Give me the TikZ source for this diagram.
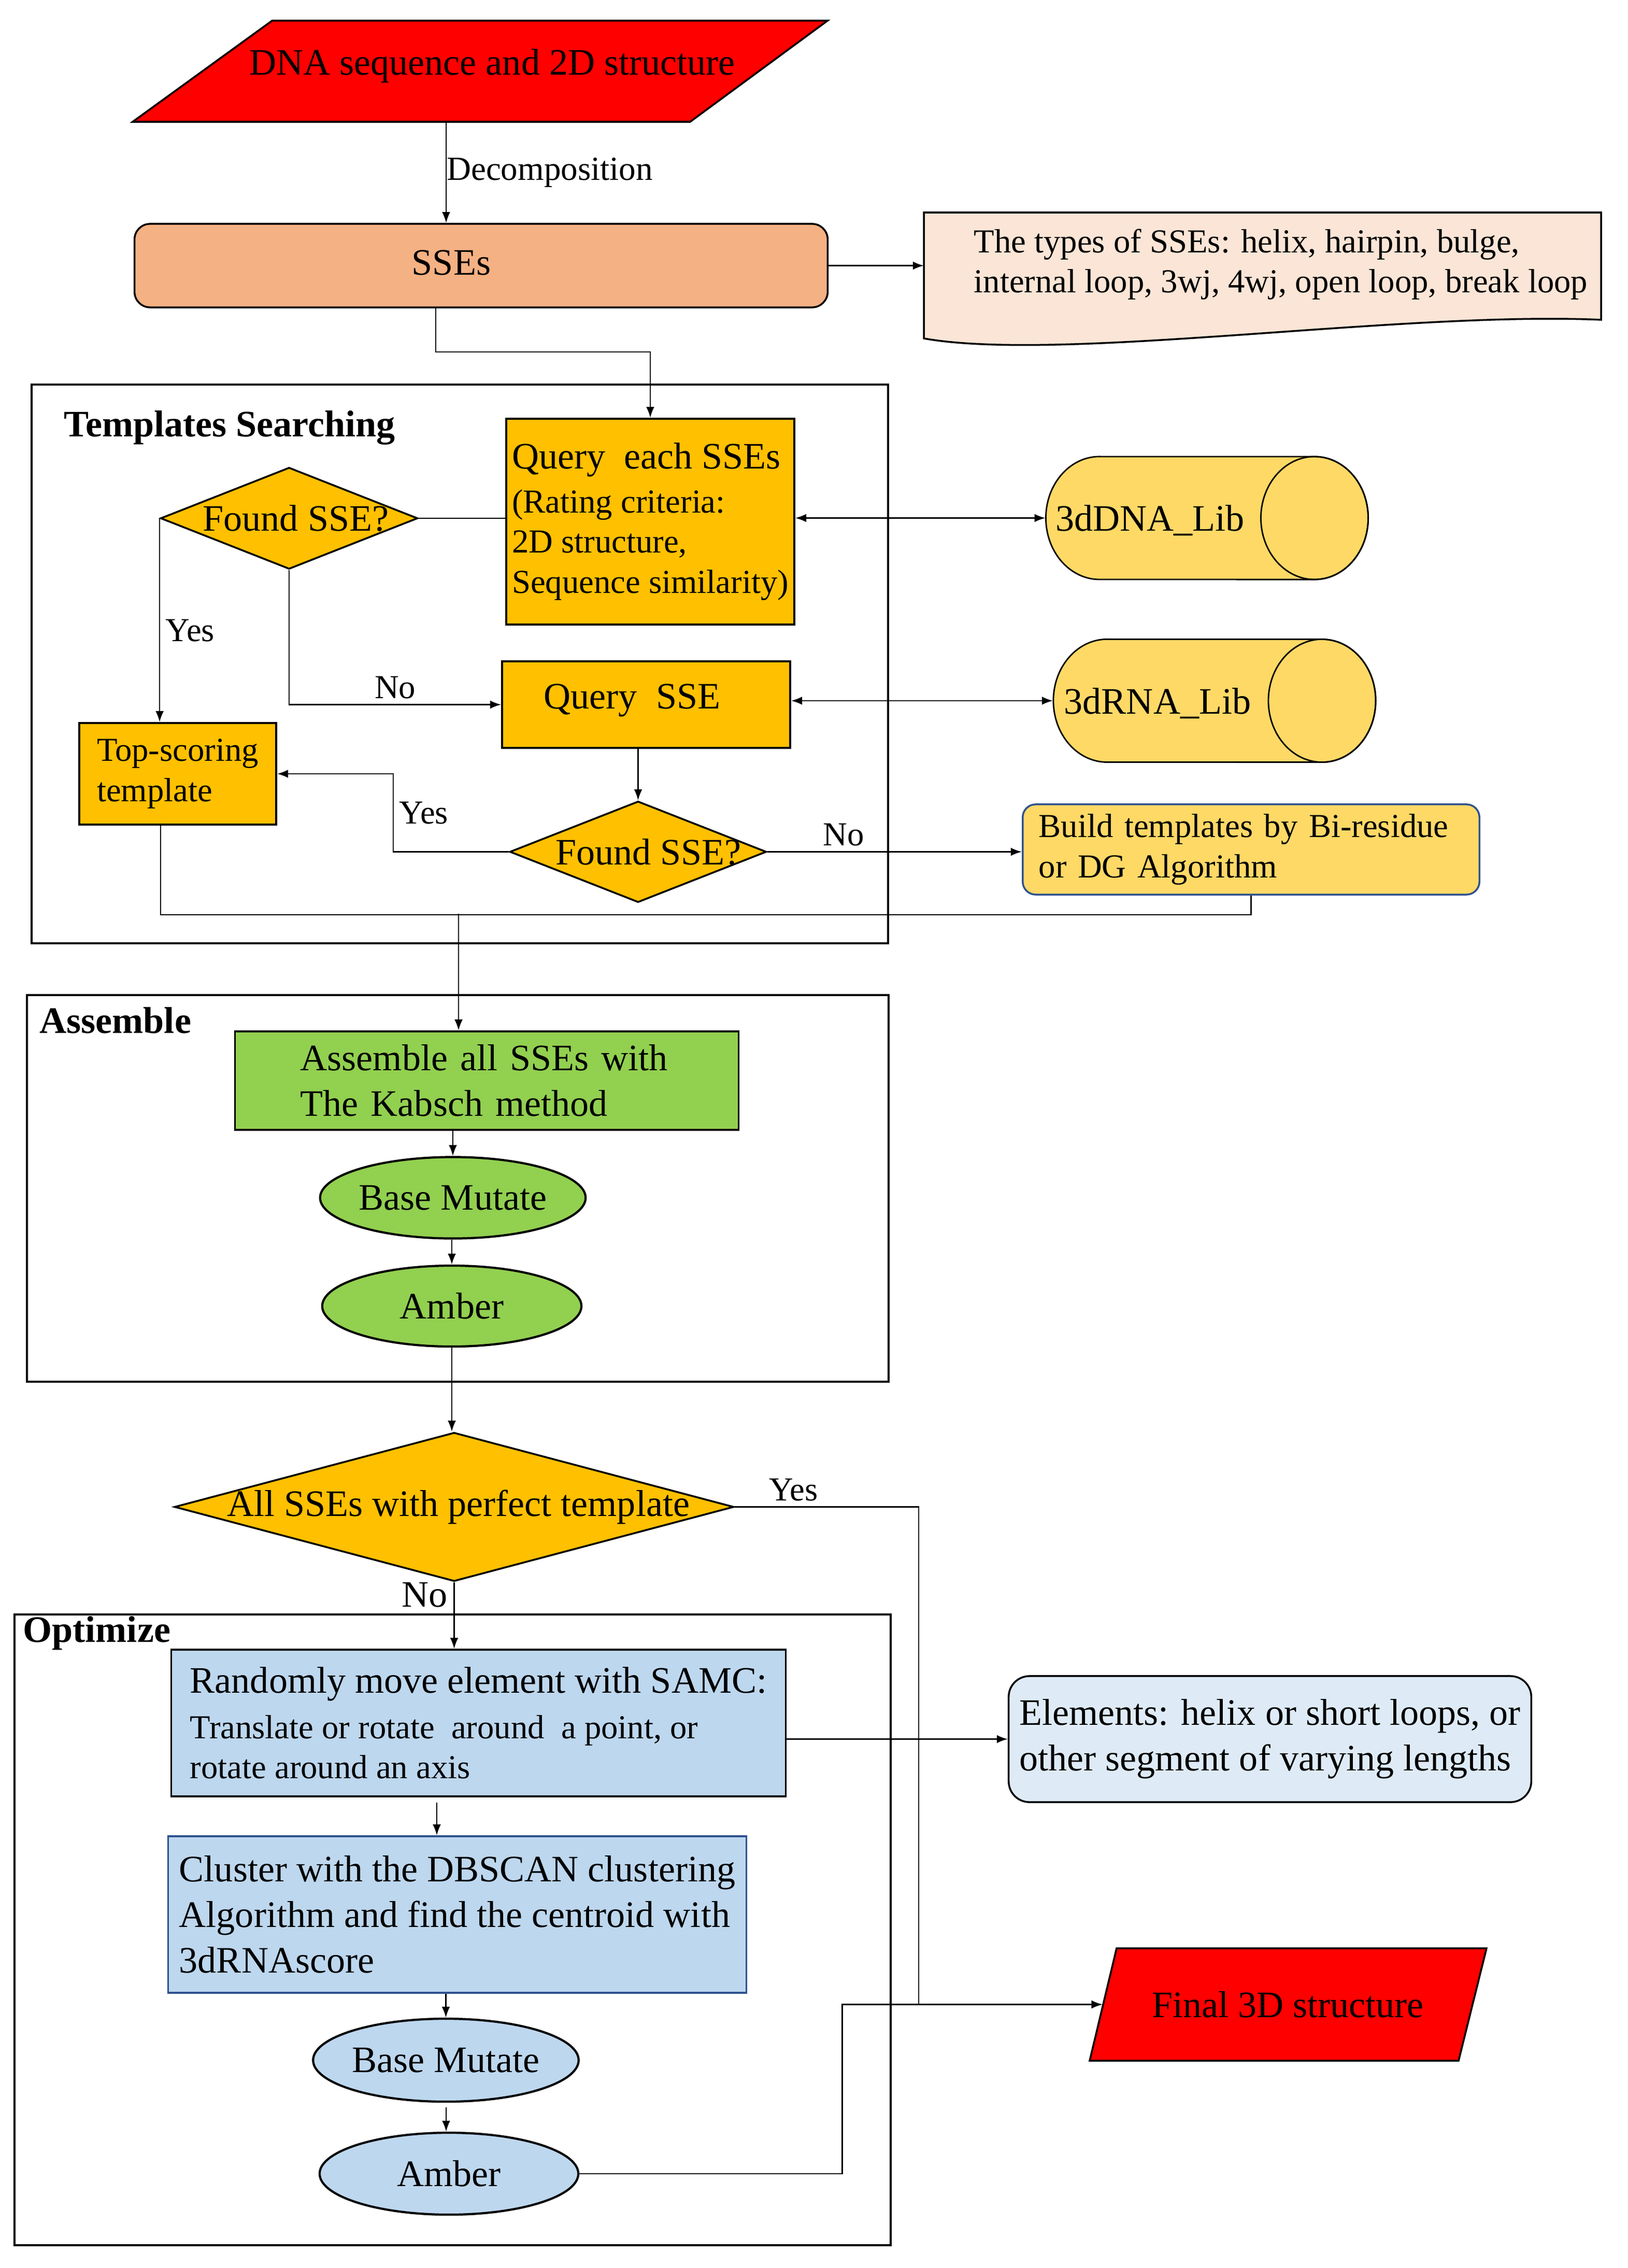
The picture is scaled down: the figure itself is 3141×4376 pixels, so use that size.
\documentclass[tikz,border=0pt]{standalone}
\usepackage{fontspec}
\setmainfont{Liberation Serif}
\usetikzlibrary{arrows.meta,shapes.geometric}
\definecolor{ssefill}{HTML}{F4B183}
\definecolor{docfill}{HTML}{FBE5D6}
\definecolor{gold}{HTML}{FFC000}
\definecolor{libfill}{HTML}{FFD966}
\definecolor{frameblue}{HTML}{2F528F}
\definecolor{leaf}{HTML}{92D050}
\definecolor{sky}{HTML}{BDD7EE}
\definecolor{pale}{HTML}{DEEBF7}
\newcommand\bigtxt{\fontsize{20.5}{25}\selectfont}
\newcommand\smalltxt{\fontsize{18.4}{22}\selectfont}

\begin{document}
\begin{tikzpicture}[x=0.01cm, y=-0.01cm,
	flowbox/.style={draw=black, line width=1pt, inner sep=0pt, font=\bigtxt},
	dia/.style={flowbox, diamond, fill=gold},
	ell/.style={flowbox, ellipse, line width=1.2pt},
	arr/.style={-{Latex[length=6pt,width=4.5pt]}, line width=0.7pt},
	dbl/.style={{Latex[length=6pt,width=4.5pt]}-{Latex[length=6pt,width=4.5pt]}, line width=0.7pt},
	conn/.style={line width=0.7pt},
	panel/.style={draw=black, line width=1.2pt},
	paneltitle/.style={font=\bigtxt\bfseries, anchor=west, inner sep=0pt},
	lbl/.style={font=\smalltxt, inner sep=3pt}]
	\useasboundingbox (0,0) rectangle (3141,4376);

	% panels
	\draw[panel] (61,742) rectangle (1714,1820);
	\draw[panel] (52,1920) rectangle (1715,2666);
	\draw[panel] (28,3115) rectangle (1719,4332);
	\node[paneltitle] (tstitle) at (123,825) {Templates Searching};
	\node[paneltitle] (astitle) at (76,1969) {Assemble};
	\node[paneltitle] (optitle) at (44,3151) {Optimize};

	% input and SSEs
	\filldraw[fill=red, line width=1pt] (525,40) -- (1597,40) -- (1332,235) -- (256,235) -- cycle;
	\node[font=\bigtxt, inner sep=0pt] (dna) at (950,127) {DNA sequence and 2D structure};
	\node[flowbox, rounded corners=0.3cm, fill=ssefill, minimum width=13.37cm, minimum height=1.61cm] (sse) at (928.5,512.5) {};
	\node[font=\bigtxt, inner sep=0pt] (sse-t) at (871,507) {SSEs};

	% note on SSE types
	\filldraw[fill=docfill, line width=1pt] (1783,410) -- (3090,410) -- (3090,617) .. controls (2700,600) and (2050,700) .. (1783,653) -- cycle;
	\coordinate (docin) at (1783,512.5);
	\node[font=\smalltxt, align=left, anchor=west, inner sep=0pt] (types) at (1879,510) {The types of SSEs: helix, hairpin, bulge,\\internal loop, 3wj, 4wj, open loop, break loop};

	% templates searching
	\node[flowbox, fill=gold, minimum width=5.56cm, minimum height=3.97cm, align=left, font=\smalltxt] (qeach) at (1255,1006.5) {{\bigtxt Query\ \ each SSEs}\\[2pt](Rating criteria:\\2D structure,\\Sequence similarity)};
	\node[dia, minimum width=4.96cm, minimum height=1.96cm] (found1) at (558,1000) {};
	\node[font=\bigtxt, inner sep=0pt] (found1t) at ([xshift=0.13cm]found1.center) {Found SSE?};
	\node[flowbox, fill=gold, minimum width=5.56cm, minimum height=1.67cm] (qsse) at (1247,1359.5) {};
	\node[font=\bigtxt, inner sep=0pt] (qsse-t) at (1220,1351) {Query\ \ SSE};
	\node[flowbox, fill=gold, minimum width=3.80cm, minimum height=1.96cm, align=left, font=\smalltxt] (tops) at (343,1493) {Top-scoring\\template};
	\node[dia, minimum width=4.95cm, minimum height=1.95cm] (found2) at (1231.5,1643.5) {};
	\node[font=\bigtxt, inner sep=0pt] (found2t) at ([xshift=0.2cm]found2.center) {Found SSE?};

	% libraries
	\foreach \nm/\cx/\cy/\txt in {dnalib/2329.5/999.5/3dDNA\_Lib, rnalib/2344/1352/3dRNA\_Lib} {
		\filldraw[fill=libfill, line width=0.8pt] (\cx-207.5,\cy-118.5) -- (\cx+207.5,\cy-118.5)
			arc[start angle=90, end angle=-90, x radius=1.035cm, y radius=1.185cm] -- (\cx-207.5,\cy+118.5)
			arc[start angle=270, end angle=90, x radius=1.035cm, y radius=1.185cm] -- cycle;
		\draw[line width=0.8pt] (\cx+207.5,\cy) ellipse [x radius=1.035cm, y radius=1.185cm];
		\node[minimum width=6.22cm, minimum height=2.37cm, inner sep=0pt] (\nm) at (\cx,\cy) {};
		\node[font=\bigtxt, inner sep=0pt] (\nm-t) at (\cx-110,\cy+5) {\txt};
	}
	\node[flowbox, draw=frameblue, rounded corners=0.25cm, fill=libfill, minimum width=8.81cm, minimum height=1.74cm, text width=8.19cm, inner xsep=0.31cm, align=left, font=\smalltxt] (build) at (2414.5,1639) {Build templates by Bi-residue\\or DG Algorithm};

	% assemble
	\node[flowbox, fill=leaf, minimum width=9.71cm, minimum height=1.90cm, text width=7.19cm, inner xsep=1.26cm, align=left] (kabsch) at (939.5,2085) {Assemble all SSEs with\\The Kabsch method};
	\node[ell, fill=leaf, minimum width=4.99cm, minimum height=1.57cm] (bm1) at (874,2311) {Base Mutate};
	\node[ell, fill=leaf, minimum width=5.00cm, minimum height=1.56cm] (amb1) at (872,2520) {Amber};

	% check
	\node[dia, minimum width=10.79cm, minimum height=2.87cm] (allsse) at (876.5,2907.5) {};
	\node[font=\bigtxt, inner sep=0pt] (allsset) at ([xshift=0.08cm]allsse.center) {All SSEs with perfect template};

	% optimize
	\node[flowbox, fill=sky, minimum width=11.85cm, minimum height=2.83cm, align=left, font=\smalltxt] (samc) at (923.5,3324.5) {{\bigtxt Randomly move element with SAMC:}\\[3pt]Translate or rotate\ \ around\ \ a point, or\\rotate around an axis};
	\node[flowbox, rounded corners=0.4cm, fill=pale, minimum width=10.08cm, minimum height=2.43cm, align=left] (elem) at (2451,3355.5) {Elements: helix or short loops, or\\other segment of varying lengths};
	\node[flowbox, draw=frameblue, fill=sky, minimum width=11.15cm, minimum height=3.02cm, align=left] (cluster) at (882.5,3694) {Cluster with the DBSCAN clustering\\Algorithm and find the centroid with\\3dRNAscore};
	\node[ell, fill=sky, minimum width=4.95cm, minimum height=1.60cm] (bm2) at (860.5,3975) {Base Mutate};
	\node[ell, fill=sky, minimum width=4.99cm, minimum height=1.58cm] (amb2) at (866.5,4194) {Amber};

	% output
	\filldraw[fill=red, line width=1pt] (2155,3759) -- (2869,3759) -- (2815,3976) -- (2103,3976) -- cycle;
	\node[font=\bigtxt, minimum width=7.14cm, minimum height=2.17cm, inner sep=0pt] (final) at (2485.5,3867.5) {Final 3D structure};

	% connectors
	\coordinate (dnaout) at (861,235);
	\draw[arr] (dnaout) -- (dnaout |- sse.north) node[midway, right, font=\fontsize{18.5}{22}\selectfont, inner xsep=0pt] {Decomposition};
	\draw[arr] (sse.east) -- (docin);
	\coordinate (sseout) at (841,593);
	\draw[arr] (sseout) -- ++(0,86) -| (qeach.north);
	\draw[conn] (found1.east) -- (found1.east -| qeach.west);
	\draw[arr] (found1.west) -- (found1.west |- tops.north) node[pos=0.55, right, lbl] {Yes};
	\draw[arr] (found1.south) |- (qsse.west) node[pos=0.75, above, lbl] {No};
	\draw[dbl] (qeach.east |- dnalib.west) -- (dnalib.west);
	\draw[dbl] (qsse.east |- rnalib.west) -- (rnalib.west);
	\draw[arr] (found2.north |- qsse.south) -- (found2.north);
	\draw[arr] (found2.west) -- ++(-223,0) |- (tops.east) node[pos=0.25, right, lbl] {Yes};
	\draw[arr] (found2.east) -- (found2.east -| build.west) node[pos=0.3, above, lbl] {No};
	\draw[conn] ([xshift=-0.33cm]tops.south) -- ++(0,172) -| (build.south);
	\coordinate (asmin) at (885,1763);
	\draw[arr] (asmin) -- (asmin |- kabsch.north);
	\draw[arr] (bm1.north |- kabsch.south) -- (bm1.north);
	\draw[arr] (amb1.north |- bm1.south) -- (amb1.north);
	\draw[arr] (amb1.south) -- (amb1.south |- allsse.north);
	\draw[arr] (allsse.east) -- ++(355,0) node[pos=0.32, above, lbl] {Yes} |- (final.west);
	\draw[arr] (allsse.south) -- (allsse.south |- samc.north) node[pos=0.19, left, font=\bigtxt] {No};
	\draw[arr] (samc.east |- elem.west) -- (elem.west);
	\coordinate (samcout) at (843,3478);
	\draw[arr] (samcout) -- (samcout |- cluster.north);
	\draw[arr] (bm2.north |- cluster.south) -- (bm2.north);
	\coordinate (bmout) at (861,4066);
	\draw[arr] (bmout) -- (bmout |- amb2.north);
	\draw[arr] (amb2.east) -- ++(507,0) |- (final.west);
\end{tikzpicture}
\end{document}
